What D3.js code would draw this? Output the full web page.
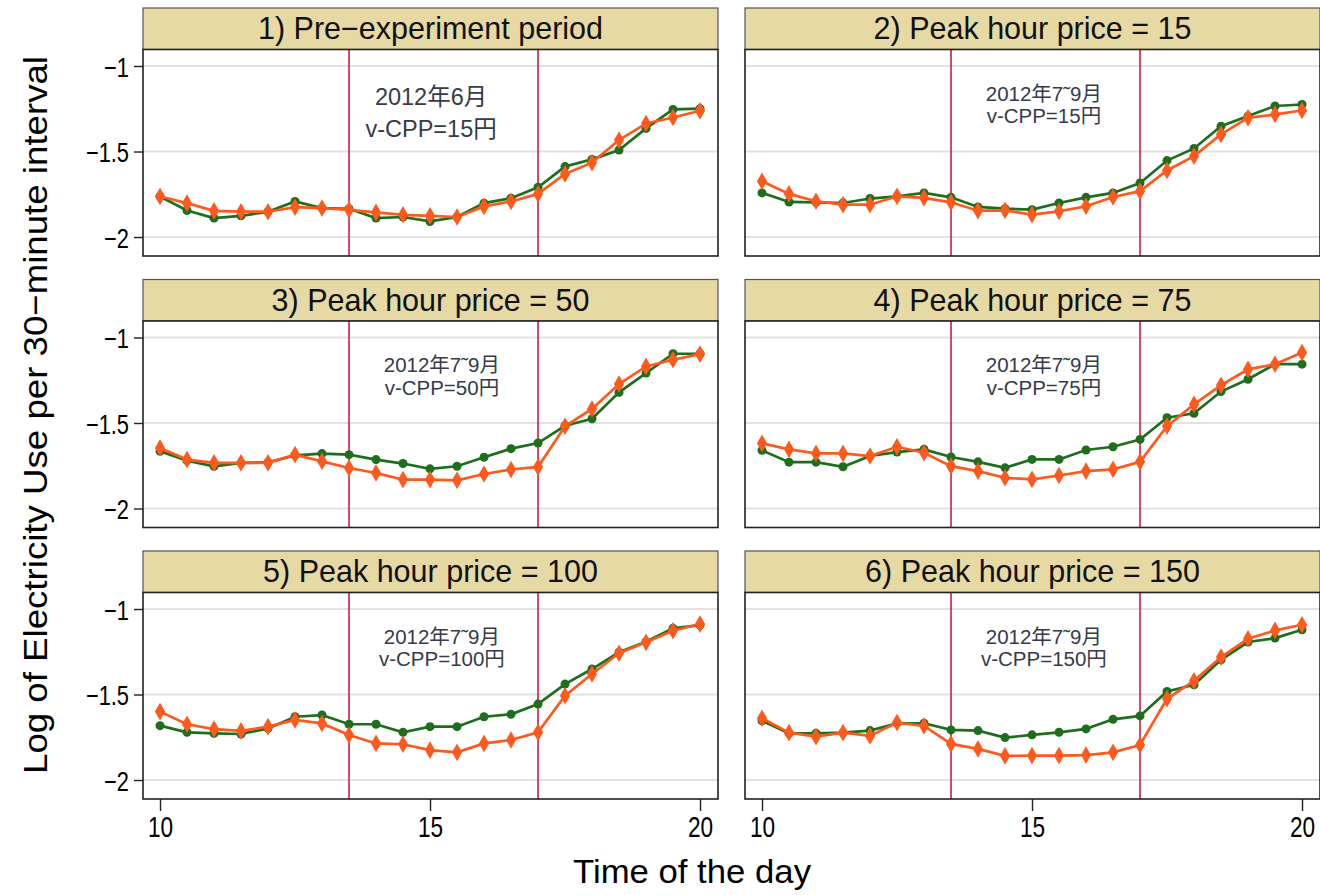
<!DOCTYPE html>
<html>
<head>
<meta charset="utf-8">
<script src="https://cdn.jsdelivr.net/npm/d3@7"></script>
<style>
  body { margin: 0; background: #fff; }
  svg { display: block; }
  .ttl { font-family: "Liberation Sans", Arial, sans-serif; fill: #000; }
  .hdr { font-family: "Liberation Sans", Arial, sans-serif; fill: #111; }
  .note { font-family: "Liberation Sans", "Noto Sans CJK JP", sans-serif; fill: #363b4a; }
</style>
</head>
<body>
<svg width="1320" height="895"></svg>
<script>
// time of day, every half hour from 10:00 to 20:00
const hours = [10, 10.5, 11, 11.5, 12, 12.5, 13, 13.5, 14, 14.5, 15, 15.5, 16, 16.5, 17, 17.5, 18, 18.5, 19, 19.5, 20];

const panelTitles = [
  '1) Pre\u2212experiment period',
  '2) Peak hour price = 15',
  '3) Peak hour price = 50',
  '4) Peak hour price = 75',
  '5) Peak hour price = 100',
  '6) Peak hour price = 150'
];
const noteLine1 = ['2012年6月', '2012年7˜9月', '2012年7˜9月', '2012年7˜9月', '2012年7˜9月', '2012年7˜9月'];
const noteLine2 = ['v-CPP=15円', 'v-CPP=15円', 'v-CPP=50円', 'v-CPP=75円', 'v-CPP=100円', 'v-CPP=150円'];

// green = control group, orange = treatment group
const control = [
  [-1.763, -1.845, -1.889, -1.876, -1.852, -1.792, -1.831, -1.835, -1.889, -1.883, -1.909, -1.883, -1.802, -1.773, -1.709, -1.588, -1.546, -1.491, -1.365, -1.254, -1.249],
  [-1.742, -1.795, -1.797, -1.801, -1.775, -1.762, -1.742, -1.768, -1.824, -1.834, -1.840, -1.801, -1.768, -1.742, -1.684, -1.553, -1.482, -1.352, -1.293, -1.234, -1.225],
  [-1.665, -1.720, -1.753, -1.733, -1.730, -1.689, -1.679, -1.685, -1.714, -1.737, -1.768, -1.753, -1.700, -1.650, -1.617, -1.516, -1.475, -1.321, -1.208, -1.095, -1.095],
  [-1.660, -1.729, -1.729, -1.756, -1.693, -1.670, -1.654, -1.699, -1.727, -1.762, -1.713, -1.713, -1.658, -1.639, -1.596, -1.469, -1.443, -1.316, -1.244, -1.156, -1.156],
  [-1.682, -1.721, -1.727, -1.731, -1.698, -1.630, -1.620, -1.674, -1.674, -1.721, -1.688, -1.688, -1.630, -1.616, -1.556, -1.439, -1.351, -1.253, -1.191, -1.113, -1.094],
  [-1.654, -1.727, -1.727, -1.723, -1.711, -1.668, -1.668, -1.707, -1.711, -1.752, -1.736, -1.721, -1.701, -1.645, -1.625, -1.482, -1.443, -1.297, -1.193, -1.170, -1.121]
];
const treatment = [
  [-1.763, -1.802, -1.847, -1.852, -1.852, -1.825, -1.831, -1.841, -1.856, -1.870, -1.876, -1.883, -1.821, -1.792, -1.748, -1.631, -1.565, -1.433, -1.336, -1.301, -1.262],
  [-1.674, -1.748, -1.791, -1.811, -1.811, -1.762, -1.771, -1.797, -1.846, -1.844, -1.869, -1.850, -1.820, -1.766, -1.732, -1.611, -1.527, -1.400, -1.303, -1.283, -1.260],
  [-1.646, -1.714, -1.733, -1.733, -1.733, -1.685, -1.724, -1.763, -1.792, -1.831, -1.831, -1.835, -1.798, -1.772, -1.757, -1.519, -1.418, -1.272, -1.169, -1.130, -1.097],
  [-1.619, -1.654, -1.678, -1.678, -1.693, -1.639, -1.674, -1.752, -1.781, -1.820, -1.830, -1.807, -1.781, -1.771, -1.727, -1.518, -1.391, -1.279, -1.186, -1.156, -1.088],
  [-1.600, -1.674, -1.702, -1.713, -1.688, -1.649, -1.669, -1.737, -1.786, -1.791, -1.825, -1.838, -1.786, -1.766, -1.721, -1.507, -1.380, -1.259, -1.195, -1.127, -1.088],
  [-1.639, -1.723, -1.746, -1.723, -1.742, -1.664, -1.684, -1.789, -1.818, -1.859, -1.857, -1.857, -1.854, -1.838, -1.795, -1.525, -1.420, -1.281, -1.174, -1.125, -1.092]
];

const yTicks = [-1, -1.5, -2];
const yTickLabels = ['\u22121', '\u22121.5', '\u22122'];
const xTicks = [10, 15, 20];
const peakWindow = [13.5, 17];

// layout
const colX = [143, 745];
const rowY = [8, 279.5, 551];
const panelW = 575, headerH = 41.5, plotH = 206.5;
const squeeze = 0.78; // the original uses a narrow face for axis text

const x = d3.scaleLinear().domain([9.685, 20.333]).range([0, panelW]);
const y = d3.scaleLinear().domain([-2.111, -0.9035]).range([plotH, 0]);

const svg = d3.select('svg');

const panels = svg.selectAll('g.panel')
  .data(panelTitles)
  .enter()
  .append('g')
  .attr('class', 'panel')
  .attr('transform', (d, i) => 'translate(' + colX[i % 2] + ',' + rowY[Math.floor(i / 2)] + ')');

// strip header
panels.append('rect')
  .attr('width', panelW).attr('height', headerH)
  .attr('fill', '#e6d9a3')
  .attr('stroke', '#555').attr('stroke-width', 1.2);
panels.append('text')
  .attr('class', 'hdr')
  .attr('x', panelW / 2).attr('y', headerH / 2 + 10.5)
  .attr('text-anchor', 'middle')
  .style('font-size', '30.5px')
  .text(d => d);

const plots = panels.append('g')
  .attr('transform', 'translate(0,' + headerH + ')');

plots.append('rect')
  .attr('width', panelW).attr('height', plotH)
  .attr('fill', '#fff');

// grid lines
plots.selectAll('line.grid')
  .data(yTicks)
  .enter()
  .append('line')
  .attr('class', 'grid')
  .attr('x1', 0).attr('x2', panelW)
  .attr('y1', d => y(d)).attr('y2', d => y(d))
  .attr('stroke', '#e2e2e2').attr('stroke-width', 2);

// peak period markers
plots.selectAll('line.peak')
  .data(peakWindow)
  .enter()
  .append('line')
  .attr('class', 'peak')
  .attr('x1', d => x(d)).attr('x2', d => x(d))
  .attr('y1', 0).attr('y2', plotH)
  .attr('stroke', '#c81e4c').attr('stroke-width', 1.6);

// annotation
plots.each(function(d, i) {
  const g = d3.select(this);
  const big = i === 0;
  const cx = x(big ? 15.02 : 15.22);
  const fs = big ? 23.5 : 20.5;
  g.append('text').attr('class', 'note')
    .attr('x', cx).attr('y', big ? 55 : 51)
    .attr('text-anchor', 'middle').style('font-size', fs + 'px')
    .text(noteLine1[i]);
  g.append('text').attr('class', 'note')
    .attr('x', cx).attr('y', big ? 87 : 73.5)
    .attr('text-anchor', 'middle').style('font-size', fs + 'px')
    .text(noteLine2[i]);
});

const line = d3.line()
  .x((d, i) => x(hours[i]))
  .y(d => y(d));

// control series: green circles
plots.append('path')
  .attr('d', (d, i) => line(control[i]))
  .attr('fill', 'none')
  .attr('stroke', '#1e6e1e').attr('stroke-width', 2.7);
plots.each(function(d, i) {
  d3.select(this).selectAll('circle.ctrl')
    .data(control[i])
    .enter()
    .append('circle')
    .attr('class', 'ctrl')
    .attr('cx', (v, j) => x(hours[j]))
    .attr('cy', v => y(v))
    .attr('r', 4.5)
    .attr('fill', '#1e6e1e');
});

// treatment series: orange diamonds
const diamond = d3.symbol().type(d3.symbolDiamond).size(90);
plots.append('path')
  .attr('d', (d, i) => line(treatment[i]))
  .attr('fill', 'none')
  .attr('stroke', '#ff5a1e').attr('stroke-width', 2.7);
plots.each(function(d, i) {
  d3.select(this).selectAll('path.trt')
    .data(treatment[i])
    .enter()
    .append('path')
    .attr('class', 'trt')
    .attr('d', diamond)
    .attr('transform', (v, j) => 'translate(' + x(hours[j]) + ',' + y(v) + ')')
    .attr('fill', '#ff5a1e');
});

// frame
plots.append('rect')
  .attr('width', panelW).attr('height', plotH)
  .attr('fill', 'none')
  .attr('stroke', '#222').attr('stroke-width', 1.6);

// y axes on left column
plots.filter((d, i) => i % 2 === 0)
  .append('g')
  .call(d3.axisLeft(y).tickValues(yTicks).tickSize(9).tickPadding(5)
    .tickFormat((d, i) => yTickLabels[i]))
  .call(g => g.select('.domain').remove())
  .call(g => g.selectAll('line').attr('stroke', '#222').attr('stroke-width', 1.4))
  .call(g => g.selectAll('text')
    .attr('class', 'ttl')
    .style('font-size', '28px')
    .attr('dy', '0.36em')
    .attr('x', -14 / squeeze)
    .attr('transform', 'scale(' + squeeze + ',1)'));

// x axes on bottom row
plots.filter((d, i) => i >= 4)
  .append('g')
  .attr('transform', 'translate(0,' + plotH + ')')
  .call(d3.axisBottom(x).tickValues(xTicks).tickSize(12).tickPadding(5).tickFormat(d3.format('d')))
  .call(g => g.select('.domain').remove())
  .call(g => g.selectAll('line').attr('stroke', '#222').attr('stroke-width', 1.4))
  .call(g => g.selectAll('.tick').each(function(t) {
    d3.select(this).select('text')
      .attr('class', 'ttl')
      .style('font-size', '29px')
      .attr('transform', 'scale(' + squeeze + ',1)');
  }));

// axis titles
svg.append('text')
  .attr('class', 'ttl')
  .attr('transform', 'translate(47,415) rotate(-90)')
  .attr('text-anchor', 'middle')
  .attr('textLength', 718)
  .attr('lengthAdjust', 'spacingAndGlyphs')
  .style('font-size', '34px')
  .text('Log of Electricity Use per 30\u2212minute interval');

svg.append('text')
  .attr('class', 'ttl')
  .attr('x', 692).attr('y', 883)
  .attr('text-anchor', 'middle')
  .attr('textLength', 238)
  .attr('lengthAdjust', 'spacingAndGlyphs')
  .style('font-size', '34px')
  .text('Time of the day');
</script>
</body>
</html>
